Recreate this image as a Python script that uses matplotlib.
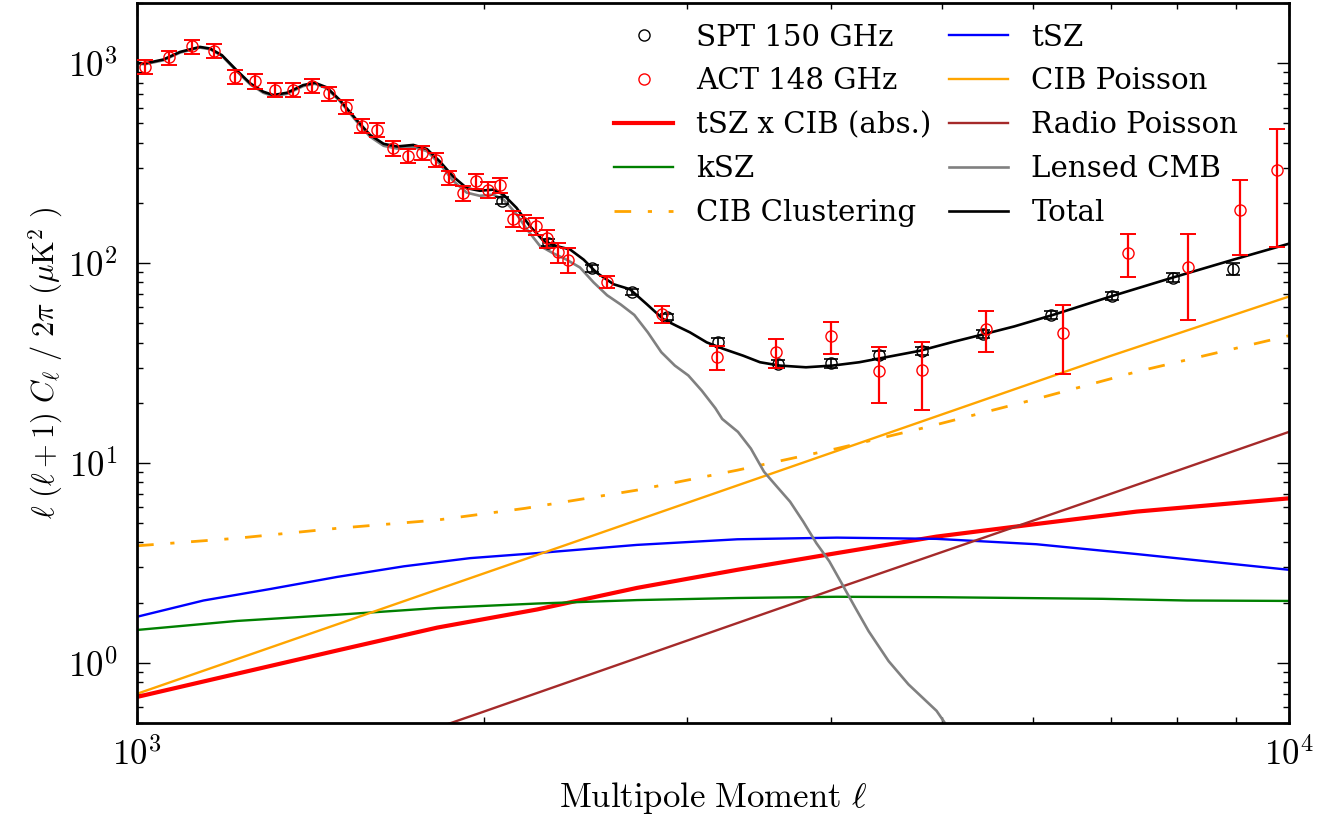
import numpy as np
import matplotlib
matplotlib.use('Agg')
import matplotlib.pyplot as plt
from matplotlib.ticker import LogLocator, NullFormatter

plt.rcParams['font.family'] = 'DejaVu Serif'
plt.rcParams['mathtext.fontset'] = 'cm'

# SPT 150 GHz band powers
spt_ell = [2073, 2275, 2481, 2692, 2886, 3197, 3599, 4002, 4407, 4804,
           5420, 6220, 7024, 7925, 8946]
spt_cl = [205, 126.4, 94.1, 71.7, 53.8, 40.4, 31.3, 31.5, 34.8, 36.4,
          44.1, 55.1, 68.5, 84.6, 93.8]
spt_err = [8, 5, 3.5, 2.5, 2.0, 1.8, 1.5, 1.5, 1.6, 1.7,
           2.0, 2.6, 3.5, 4.5, 6.5]

# ACT 148 GHz band powers
act_ell = [1016, 1067, 1117, 1167, 1217, 1266, 1318, 1367, 1418, 1469,
           1518, 1569, 1617, 1668, 1718, 1768, 1818, 1867, 1918, 1968,
           2018, 2066, 2119, 2169, 2219, 2271, 2322, 2367, 2557, 2855,
           3186, 3587, 4002, 4407, 4799, 5454, 6362, 7252, 8178, 9069, 9757]
act_cl = [958, 1068, 1215, 1152, 854, 813, 734, 734, 768, 706,
          606, 487, 464, 376, 345, 355, 329, 268, 224, 258,
          233, 245, 167, 159, 153, 133, 113, 104, 80.8, 55.5,
          33.8, 35.8, 43.0, 29.0, 29.3, 46.7, 44.7, 112.6, 96.0, 185, 293]
act_err = [78, 86, 98, 93, 69, 66, 60, 60, 62, 57,
           49, 40, 38, 31, 29, 29, 27, 22, 19, 22,
           21, 22, 15, 15, 15, 14, 13, 15, 5.6, 5.5,
           4.5, 6, 7.8, 9, 11, 11, 17, 27, 44, 75, 173]

# model components
tot_ell = [1000, 1016, 1054, 1090, 1134, 1157, 1185, 1220, 1254, 1287,
           1313, 1349, 1394, 1427, 1461, 1500, 1551, 1593, 1637, 1681,
           1737, 1785, 1832, 1881, 1933, 1984, 2038, 2080, 2135, 2193,
           2254, 2314, 2376, 2442, 2505, 2593, 2678, 2770, 2863, 2940,
           3020, 3123, 3229, 3359, 3474, 3613, 3808, 4016, 4236, 4468,
           4781, 5116, 5436, 5775, 6244, 7029, 7926, 8948, 10000]
tot_cl = [1003, 997, 1043, 1139, 1206, 1184, 1096, 923, 792, 720,
          693, 711, 777, 798, 757, 654, 520, 438, 395, 383,
          390, 372, 322, 271, 237, 230, 233, 220, 189, 153,
          129, 121.5, 117, 104, 89.6, 78.3, 74.0, 62.3, 52.4, 48.5,
          45.0, 40.1, 37.2, 34.4, 31.9, 30.7, 30.1, 30.7, 31.9, 33.8,
          36.4, 40.4, 44.1, 48.2, 55.1, 68.5, 84.6, 104, 125]

cmb_ell = [1000, 1016, 1054, 1090, 1134, 1157, 1185, 1220, 1254, 1287,
           1313, 1349, 1394, 1427, 1461, 1500, 1551, 1593, 1637, 1681,
           1737, 1785, 1832, 1881, 1933, 1984, 2038, 2080, 2135, 2179,
           2237, 2297, 2360, 2424, 2491, 2559, 2630, 2702, 2776, 2852,
           2930, 3010, 3092, 3177, 3221, 3324, 3411, 3502, 3594, 3689,
           3787, 3888, 3990, 4096, 4204, 4316, 4492, 4674, 4944, 5072]
cmb_cl = [994, 988, 1034, 1130, 1197, 1175, 1087, 914, 783, 711,
          684, 702, 768, 789, 748, 645, 511, 429, 386, 374,
          381, 363, 313, 258, 225, 217, 220, 208, 176, 148,
          122, 112, 104, 95, 80, 69, 62, 55, 45, 35.8,
          30.7, 27.4, 23.0, 18.8, 16.6, 14.3, 11.8, 9.03, 7.6, 6.4,
          5.09, 3.97, 3.22, 2.46, 1.88, 1.44, 1.02, 0.78, 0.575, 0.464]

tsz_ell = [1000, 1142, 1305, 1492, 1705, 1946, 2226, 2716, 3320, 4051,
           4943, 6036, 7376, 10000]
tsz_cl = [1.70, 2.05, 2.34, 2.69, 3.04, 3.34, 3.54, 3.89, 4.15, 4.23,
          4.17, 3.92, 3.50, 2.92]

ksz_ell = [1000, 1221, 1492, 1822, 2226, 2716, 3320, 4051, 4943, 6895,
           8154, 10000]
ksz_cl = [1.46, 1.62, 1.74, 1.88, 1.98, 2.06, 2.11, 2.14, 2.13, 2.09,
          2.05, 2.04]

tszcib_ell = [1000, 1221, 1492, 1822, 2226, 2716, 3320, 4051, 4943, 6036,
              7376, 10000]
tszcib_cl = [0.675, 0.882, 1.153, 1.50, 1.85, 2.37, 2.92, 3.54, 4.28, 4.95,
             5.71, 6.65]

cibc_ell = [1000, 1221, 1492, 1822, 2173, 2716, 3320, 4051, 4847, 6036,
            7376, 10000]
cibc_cl = [3.85, 4.20, 4.71, 5.18, 5.93, 7.31, 9.20, 11.8, 15.1, 20.9,
           28.6, 43.3]

cibp_ell = [1000, 2000, 4000, 7000, 10000]
cibp_cl = [0.70, 2.8, 11.2, 34.3, 68]

radio_ell = [1000, 2000, 4000, 7000, 10000]
radio_cl = [0.143, 0.57, 2.3, 7.0, 14.3]

fig = plt.figure(figsize=(13.28, 8.15), dpi=100)
ax = fig.add_axes([0.1032, 0.1129, 0.8674, 0.8834])

h_tszcib, = ax.plot(tszcib_ell, tszcib_cl, color='red', lw=3.0, label='tSZ x CIB (abs.)')
h_ksz, = ax.plot(ksz_ell, ksz_cl, color='green', lw=1.7, label='kSZ')
h_cibc, = ax.plot(cibc_ell, cibc_cl, color='orange', lw=2.0, ls=(0, (6, 6, 1.5, 6)),
                  label='CIB Clustering')
h_tsz, = ax.plot(tsz_ell, tsz_cl, color='blue', lw=1.7, label='tSZ')
h_cibp, = ax.plot(cibp_ell, cibp_cl, color='orange', lw=1.7, label='CIB Poisson')
h_radio, = ax.plot(radio_ell, radio_cl, color='brown', lw=1.7, label='Radio Poisson')
h_cmb, = ax.plot(cmb_ell, cmb_cl, color='gray', lw=1.9, label='Lensed CMB')
h_tot, = ax.plot(tot_ell, tot_cl, color='black', lw=1.9, label='Total')

ax.errorbar(spt_ell, spt_cl, yerr=spt_err, fmt='none', ecolor='black',
            elinewidth=1.2, capsize=5, capthick=1.2, zorder=4)
h_spt, = ax.plot(spt_ell, spt_cl, 'o', mfc='none', mec='black', ms=8, mew=1.0,
                 zorder=4, label='SPT 150 GHz')
ax.errorbar(act_ell, act_cl, yerr=act_err, fmt='none', ecolor='red',
            elinewidth=1.6, capsize=6, capthick=1.4, zorder=5)
h_act, = ax.plot(act_ell, act_cl, 'o', mfc='none', mec='red', ms=8, mew=1.0,
                 zorder=5, label='ACT 148 GHz')

ax.set_xscale('log')
ax.set_yscale('log')
ax.set_xlim(1000, 10000)
ax.set_ylim(0.5, 2000)

ax.set_xticks([1e3, 1e4], [r'$10^{3}$', r'$10^{4}$'])
ax.set_yticks([1, 10, 100, 1000], [r'$10^{0}$', r'$10^{1}$', r'$10^{2}$', r'$10^{3}$'])
ax.xaxis.set_minor_locator(LogLocator(base=10, subs=np.arange(2, 10)))
ax.yaxis.set_minor_locator(LogLocator(base=10, subs=np.arange(2, 10)))
ax.xaxis.set_minor_formatter(NullFormatter())
ax.yaxis.set_minor_formatter(NullFormatter())
ax.tick_params(which='both', direction='in', top=True, right=True)
ax.tick_params(which='major', length=9, width=1.0, labelsize=25)
ax.tick_params(axis='x', which='major', pad=10)
ax.tick_params(axis='y', which='major', pad=14)
ax.tick_params(which='minor', length=4.5, width=1.0)
for s in ax.spines.values():
    s.set_linewidth(2.0)

ax.set_xlabel(r'${\rm Multipole\ Moment}\ \ell$', fontsize=25, labelpad=6)
ax.set_ylabel(r'$\ell\ (\ell+1)\ C_\ell\ /\ 2\pi\ (\mu{\rm K}^2\ )$', fontsize=22, labelpad=2)

handles = [h_spt, h_act, h_tszcib, h_ksz, h_cibc,
           h_tsz, h_cibp, h_radio, h_cmb, h_tot]
ax.legend(handles=handles, loc='upper right', bbox_to_anchor=(0.974, 1.0),
          ncol=2, frameon=False, prop={'family': 'DejaVu Serif', 'size': 21.1},
          numpoints=1, handlelength=2.0, handletextpad=0.8, columnspacing=0.6,
          labelspacing=0.54, borderaxespad=0.3)

fig.savefig('out.png', dpi=100)
